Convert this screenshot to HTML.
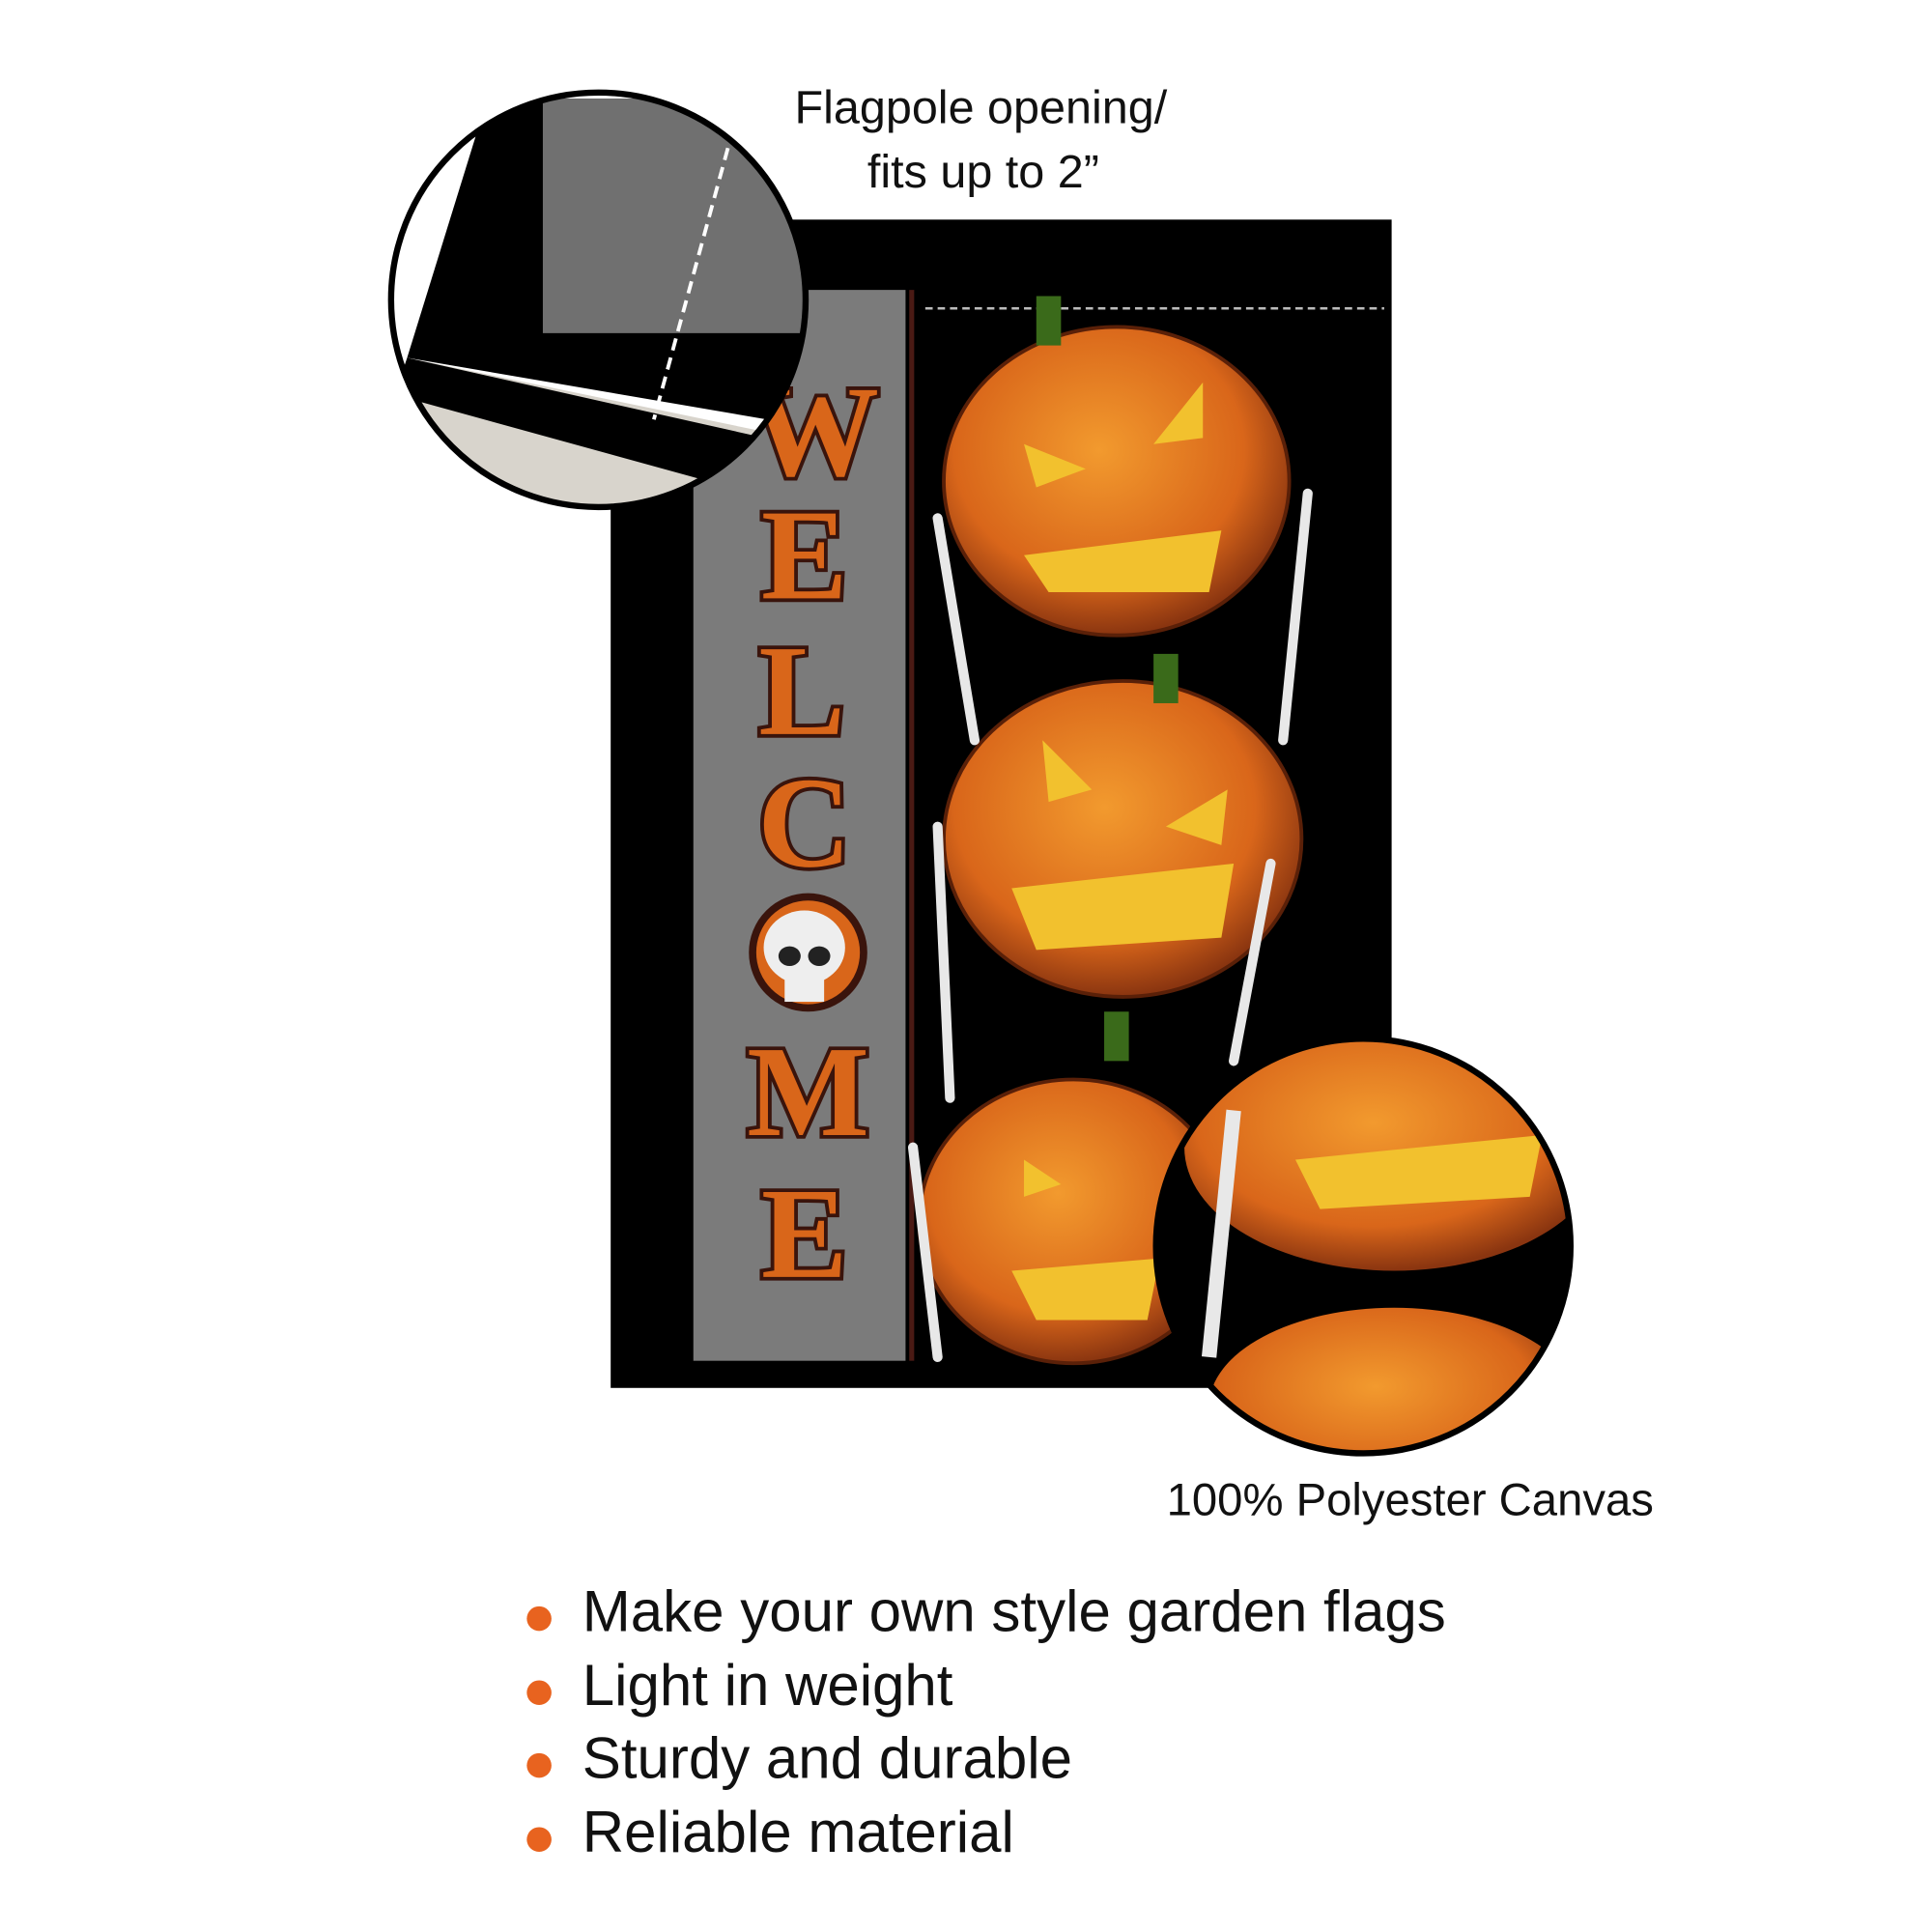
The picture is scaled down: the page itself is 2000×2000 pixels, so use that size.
<!DOCTYPE html>
<html><head><meta charset="utf-8"><style>
html,body{margin:0;padding:0;background:#fff}
svg{display:block}
</style></head><body>
<svg width="2000" height="2000" viewBox="0 0 1566 1566" xmlns="http://www.w3.org/2000/svg">
<defs>
<radialGradient id="pk" cx="0.45" cy="0.4" r="0.6">
<stop offset="0" stop-color="#f29a2e"/><stop offset="0.7" stop-color="#d9661a"/><stop offset="1" stop-color="#8a3510"/>
</radialGradient>
<clipPath id="c1"><circle cx="485" cy="243" r="168"/></clipPath>
<clipPath id="c2"><circle cx="1105" cy="1010" r="168"/></clipPath>
</defs>
<rect x="495" y="178" width="633" height="947" fill="#000"/>
<rect x="562" y="235" width="172" height="868" fill="#7b7b7b"/>
<rect x="737" y="235" width="4" height="868" fill="#4a1a14"/>
<line x1="750" y1="250" x2="1122" y2="250" stroke="#bbb" stroke-width="2" stroke-dasharray="6,4"/>
<g font-family="Liberation Serif, serif" font-weight="bold" font-size="105" text-anchor="middle" fill="#d9661a" stroke="#3a140c" stroke-width="6" paint-order="stroke">
<text x="660" y="385">W</text>
<text x="652" y="485">E</text>
<text x="650" y="595">L</text>
<text x="652" y="702">C</text>
<text x="655" y="920">M</text>
<text x="652" y="1035">E</text>
</g>
<circle cx="655" cy="772" r="45" fill="#d9661a" stroke="#3a140c" stroke-width="6"/>
<ellipse cx="652" cy="768" rx="33" ry="30" fill="#eee"/>
<rect x="636" y="790" width="32" height="22" fill="#eee"/>
<ellipse cx="640" cy="775" rx="9" ry="8" fill="#222"/><ellipse cx="664" cy="775" rx="9" ry="8" fill="#222"/>
<g stroke="#5a2008" stroke-width="3">
<ellipse cx="905" cy="390" rx="140" ry="125" fill="url(#pk)"/>
<ellipse cx="910" cy="680" rx="145" ry="128" fill="url(#pk)"/>
<ellipse cx="870" cy="990" rx="125" ry="115" fill="url(#pk)"/>
</g>
<g fill="#f2c12e">
<polygon points="830,360 880,380 840,395"/><polygon points="975,310 935,360 975,355"/>
<polygon points="830,450 990,430 980,480 850,480"/>
<polygon points="845,600 885,640 850,650"/><polygon points="995,640 945,670 990,685"/>
<polygon points="820,720 1000,700 990,760 840,770"/>
<polygon points="830,940 860,960 830,970"/><polygon points="820,1030 940,1020 930,1070 840,1070"/>
</g>
<g fill="none" stroke="#e8e8e8" stroke-width="8" stroke-linecap="round">
<path d="M790,600 L760,420 M1040,600 L1060,400 M770,890 L760,670 M1000,860 L1030,700 M760,1100 L740,930"/>
</g>
<g fill="#3a6a1a"><rect x="840" y="240" width="20" height="40"/><rect x="935" y="530" width="20" height="40"/><rect x="895" y="820" width="20" height="40"/></g>
<g clip-path="url(#c1)">
<rect x="300" y="60" width="380" height="380" fill="#fff"/>
<polygon points="395,80 680,80 680,350 330,290" fill="#000"/>
<polygon points="440,80 680,80 680,270 440,270" fill="#707070"/>
<polygon points="330,290 620,350 620,440 300,440" fill="#d8d4cc"/>
<polygon points="330,290 620,355 610,400 320,320" fill="#000"/>
<line x1="590" y1="120" x2="530" y2="340" stroke="#fff" stroke-width="3" stroke-dasharray="10,6"/>
</g>
<circle cx="485" cy="243" r="168" fill="none" stroke="#000" stroke-width="5"/>
<g clip-path="url(#c2)">
<rect x="930" y="840" width="350" height="340" fill="#000"/>
<ellipse cx="1130" cy="930" rx="170" ry="100" fill="url(#pk)"/>
<ellipse cx="1130" cy="1140" rx="150" ry="80" fill="url(#pk)"/>
<polygon points="1050,940 1250,920 1240,970 1070,980" fill="#f2c12e"/>
<path d="M980,1100 L1000,900" stroke="#e8e8e8" stroke-width="12"/>
</g>
<circle cx="1105" cy="1010" r="168" fill="none" stroke="#000" stroke-width="5"/>
<g font-family="Liberation Sans, sans-serif" fill="#111">
<text x="795" y="100" font-size="38" text-anchor="middle">Flagpole opening/</text>
<text x="797" y="152" font-size="38" text-anchor="middle">fits up to 2”</text>
<text x="1143" y="1228" font-size="37" text-anchor="middle">100% Polyester Canvas</text>
<g font-size="47">
<text x="472" y="1322">Make your own style garden flags</text>
<text x="472" y="1382">Light in weight</text>
<text x="472" y="1441">Sturdy and durable</text>
<text x="472" y="1501">Reliable material</text>
</g>
</g>
<g fill="#e8631f">
<circle cx="437" cy="1312" r="10"/><circle cx="437" cy="1372" r="10"/><circle cx="437" cy="1431" r="10"/><circle cx="437" cy="1491" r="10"/>
</g>
</svg>
</body></html>
